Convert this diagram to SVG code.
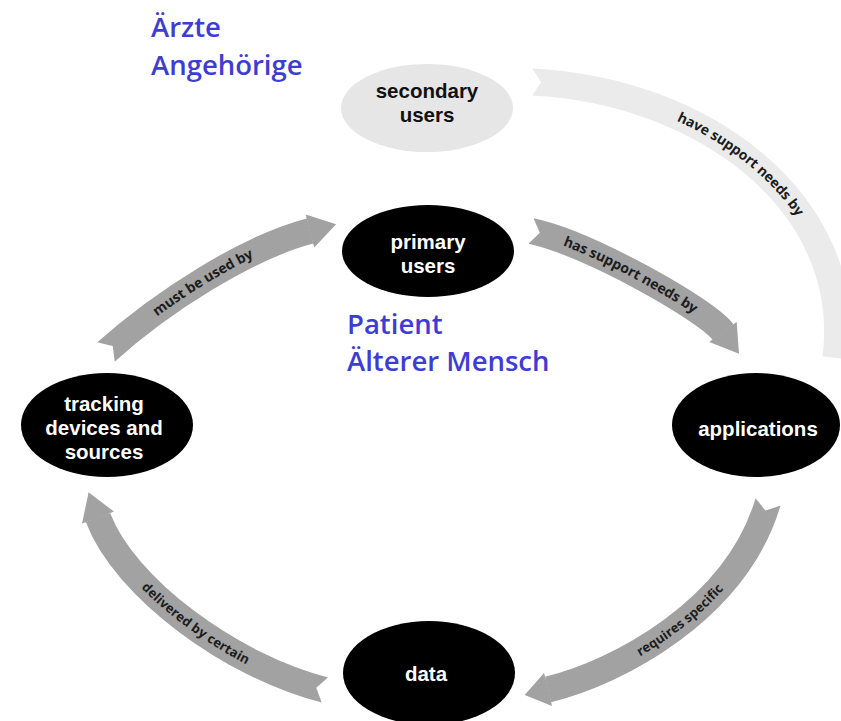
<svg xmlns="http://www.w3.org/2000/svg" width="841" height="721" viewBox="0 0 841 721">
  <style>
    .band{fill:none;stroke:#a2a2a2;stroke-width:26;stroke-linecap:butt}
    .band-light{fill:none;stroke:#ebebeb;stroke-width:27;stroke-linecap:butt}
    .head{fill:#a2a2a2}
    .notch{fill:#ffffff}
    .lbl{font-family:"Open Sans","Noto Sans",sans-serif;font-weight:700;font-size:14px;fill:#1c1c1c}
    .lbl-s{font-size:13px}
    .node{fill:#000000}
    .node-light{fill:#e6e6e6}
    .ntext{font-family:"Liberation Sans",Arial,sans-serif;font-weight:700;font-size:20.5px;fill:#ffffff;text-anchor:middle}
    .ntext-dark{fill:#111111}
    .role{font-family:"Open Sans","Noto Sans",sans-serif;font-weight:600;font-size:27.5px;fill:#3d3dd6}
  </style>
  <defs>
    <!-- centrelines of the curved arrows, also used to lay out their labels -->
    <path id="c-used" d="M106,352 C161.4,302.2 246.7,247.5 310,231"/>
    <path id="c-has" d="M531,231 C585.2,241.8 706.1,309.2 723,332"/>
    <path id="c-requires" d="M768,502 C736,610 617.3,672.9 548,689.5"/>
    <path id="c-requires-rev" d="M548,689.5 C617.3,672.9 736,610 768,502"/>
    <path id="c-delivered" d="M325,690 C231.1,666.5 123.9,587 98,517.5"/>
    <path id="c-delivered-rev" d="M98,517.5 C123.9,587 231.1,666.5 325,690"/>
    <path id="c-have" d="M532,82 C700,90 855,200 836,358"/>
  </defs>

  <rect width="841" height="721" fill="#ffffff"/>

  <g id="connectors">
    <!-- secondary users -> applications (light) -->
    <g id="edge-have">
      <use href="#c-have" class="band-light"/>
      <polygon class="notch" points="530,65 541,82 530,99"/>
      <text class="lbl" dy="4.5"><textPath href="#c-have" startOffset="50%" text-anchor="middle">have support needs by</textPath></text>
    </g>
    <!-- tracking devices -> primary users -->
    <g id="edge-used">
      <use href="#c-used" class="band"/>
      <polygon class="head" points="314.3,247.4 336.1,224.2 305.7,214.6 309.5,231.2"/>
      <polygon class="notch" points="115.2,365.2 112.7,346 93.8,341.4"/>
      <text class="lbl" dy="4.5"><textPath href="#c-used" startOffset="50%" text-anchor="middle">must be used by</textPath></text>
    </g>
    <!-- primary users -> applications -->
    <g id="edge-has">
      <use href="#c-has" class="band"/>
      <polygon class="head" points="709.3,342.1 739,353.7 736.7,321.9 722.6,331.5"/>
      <polygon class="notch" points="525.9,246.3 539.8,232.8 532.1,214.9"/>
      <text class="lbl" dy="4.5"><textPath href="#c-has" startOffset="50%" text-anchor="middle">has support needs by</textPath></text>
    </g>
    <!-- applications -> data -->
    <g id="edge-requires">
      <use href="#c-requires" class="band"/>
      <polygon class="head" points="544,673 524.7,695.1 552,706 548.5,689.4"/>
      <polygon class="notch" points="753.3,495.6 765.4,510.6 783.9,504.6"/>
      <text class="lbl lbl-s" dy="4.5"><textPath href="#c-requires-rev" startOffset="50%" text-anchor="middle">requires specific</textPath></text>
    </g>
    <!-- data -> tracking devices -->
    <g id="edge-delivered">
      <use href="#c-delivered" class="band"/>
      <polygon class="head" points="113.9,511.6 88.6,492.2 82.1,523.4 98.2,518"/>
      <polygon class="notch" points="330.8,675 316.3,687.8 323,706"/>
      <text class="lbl lbl-s" dy="4.5"><textPath href="#c-delivered-rev" startOffset="50%" text-anchor="middle">delivered by certain</textPath></text>
    </g>
  </g>

  <g id="secondary-users">
    <ellipse class="node-light" cx="427" cy="108" rx="86" ry="44"/>
    <text class="ntext ntext-dark" x="427" y="98">secondary<tspan x="427" dy="24">users</tspan></text>
  </g>

  <g id="primary-users">
    <ellipse class="node" cx="428" cy="251" rx="86" ry="46"/>
    <text class="ntext" x="428" y="249">primary<tspan x="428" dy="24">users</tspan></text>
  </g>

  <g id="applications">
    <ellipse class="node" cx="756" cy="425" rx="84" ry="52"/>
    <text class="ntext" x="758" y="436">applications</text>
  </g>

  <g id="tracking-devices">
    <ellipse class="node" cx="107" cy="425" rx="86" ry="52"/>
    <text class="ntext" x="104" y="411">tracking<tspan x="104" dy="24">devices and</tspan><tspan x="104" dy="24">sources</tspan></text>
  </g>

  <g id="data">
    <ellipse class="node" cx="429" cy="673" rx="86" ry="52"/>
    <text class="ntext" x="426" y="681">data</text>
  </g>

  <g id="roles">
    <text class="role" x="151" y="37">Ärzte</text>
    <text class="role" x="151" y="75">Angehörige</text>
    <text class="role" x="347" y="334">Patient</text>
    <text class="role" x="347" y="371">Älterer Mensch</text>
  </g>
</svg>
